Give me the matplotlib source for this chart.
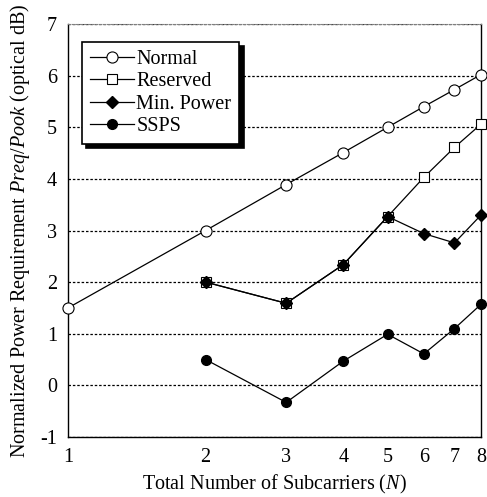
import numpy as np
import matplotlib
matplotlib.use("Agg")
import matplotlib.pyplot as plt

plt.rcParams["font.family"] = "Liberation Serif"
plt.rcParams["mathtext.fontset"] = "custom"
plt.rcParams["mathtext.rm"] = "Liberation Serif"
plt.rcParams["mathtext.it"] = "Liberation Serif:italic"
plt.rcParams["axes.unicode_minus"] = False

# values
n_all = [1, 2, 3, 4, 5, 6, 7, 8]
n_sub = [2, 3, 4, 5, 6, 7, 8]
normal = [1.5, 3.0, 3.89, 4.51, 5.0, 5.4, 5.73, 6.02]
reserved = [2.0, 1.59, 2.34, 3.27, 4.03, 4.61, 5.06]
min_power = [2.0, 1.59, 2.34, 3.27, 2.94, 2.76, 3.30]
ssps = [0.5, -0.33, 0.47, 0.99, 0.61, 1.1, 1.57]

fig = plt.figure(figsize=(4.87, 4.97), dpi=100)
ax = fig.add_axes([68 / 487, 1 - 437 / 497, 413 / 487, 413 / 497])

lw = 0.9
ax.plot(n_all, normal, color="black", lw=lw, marker="o", ms=8,
        mfc="white", mec="black", mew=0.8, label="Normal", clip_on=False, zorder=3)
ax.plot(n_sub, reserved, color="black", lw=lw, marker="s", ms=7,
        mfc="white", mec="black", mew=0.8, label="Reserved", clip_on=False, zorder=3)
ax.plot(n_sub, min_power, color="black", lw=lw, marker="D", ms=6.5,
        mfc="black", mec="black", label="Min. Power", clip_on=False, zorder=4)
ax.plot(n_sub, ssps, color="black", lw=lw, marker="o", ms=7,
        mfc="black", mec="black", label="SSPS", clip_on=False, zorder=4)

ax.set_xscale("log")
ax.set_xlim(1, 8)
ax.set_ylim(-1, 7)
ax.set_xticks(n_all)
ax.set_xticklabels([str(v) for v in n_all])
ax.xaxis.set_minor_locator(matplotlib.ticker.NullLocator())
ax.set_yticks(range(-1, 8))
ax.tick_params(length=0, labelsize=14.5, pad=8)
ax.grid(axis="y", ls=(0, (2, 1.5)), color="black", lw=0.9)

for side in ["left", "right", "bottom"]:
    ax.spines[side].set_linewidth(1.0)
ax.spines["top"].set_linestyle((0, (2, 1.5)))
ax.spines["top"].set_color("gray")

ax.set_xlabel("Total Number of Subcarriers ($N$)", fontsize=14.5, labelpad=4)
ax.set_ylabel("Normalized Power Requirement $Preq/Pook$ (optical dB)",
              fontsize=14.5, labelpad=6)

leg = ax.legend(loc="upper left", bbox_to_anchor=(0.034, 0.956), borderaxespad=0,
                fontsize=14.5, handlelength=2.2, handletextpad=0.1,
                labelspacing=0.15, borderpad=0.4, fancybox=False,
                framealpha=1, edgecolor="black",
                shadow={"color": "black", "alpha": 1, "ox": 3, "oy": -3})
leg.get_frame().set_linewidth(1.2)

fig.savefig("out.png", dpi=100)
